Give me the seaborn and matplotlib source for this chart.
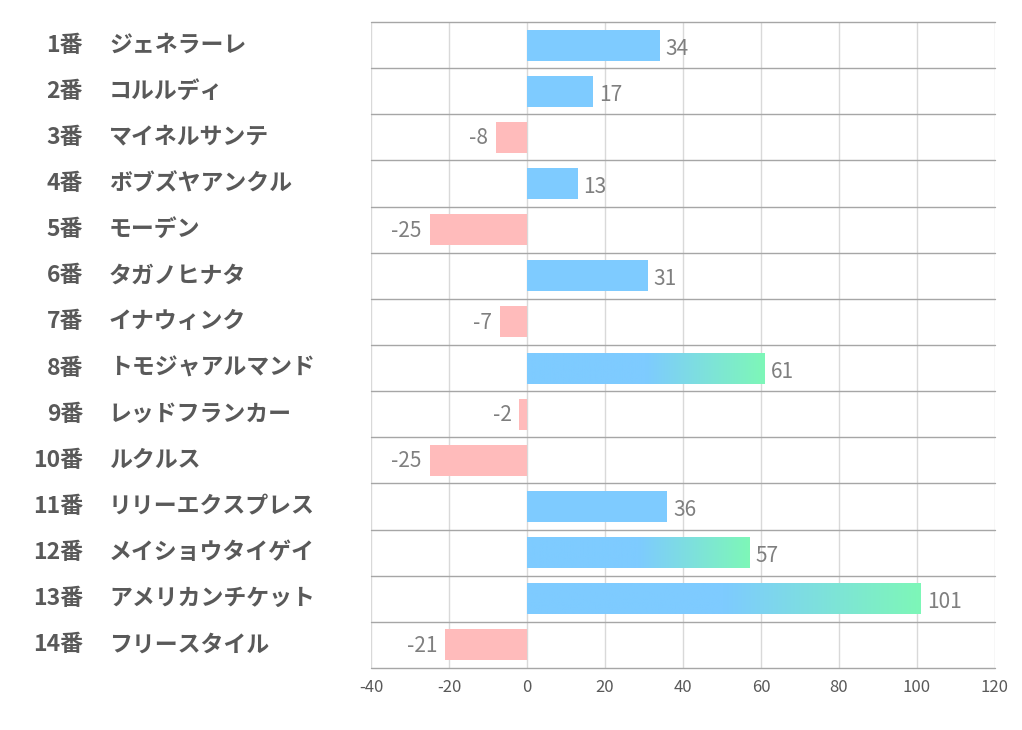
import matplotlib
matplotlib.use("Agg")
import matplotlib.pyplot as plt
import matplotlib.transforms as mtrans
from matplotlib.colors import LinearSegmentedColormap
import numpy as np
import pandas as pd
import seaborn as sns

numbers = ["1番", "2番", "3番", "4番", "5番", "6番", "7番", "8番", "9番", "10番",
           "11番", "12番", "13番", "14番"]
horses = ["ジェネラーレ", "コルルディ", "マイネルサンテ", "ボブズヤアンクル", "モーデン",
          "タガノヒナタ", "イナウィンク", "トモジャアルマンド", "レッドフランカー", "ルクルス",
          "リリーエクスプレス", "メイショウタイゲイ", "アメリカンチケット", "フリースタイル"]
values = [34, 17, -8, 13, -25, 31, -7, 61, -2, -25, 36, 57, 101, -21]
x_ticks = [-40, -20, 0, 20, 40, 60, 80, 100, 120]

sns.set_theme(style="white")
plt.rcParams['font.family'] = ['Noto Sans CJK JP', 'DejaVu Sans']

df = pd.DataFrame({"horse": horses, "value": values})
df["sign"] = np.where(df["value"] >= 0, "pos", "neg")

BLUE = "#7ECBFF"
PINK = "#FFBBBB"
GREEN = "#7DF7B8"

fig = plt.figure(figsize=(10.22, 7.30), dpi=100)
ax = fig.add_axes([371/1022, 1-668/730, (995-371)/1022, (668-22)/730])

sns.barplot(data=df, y="horse", x="value", hue="sign", palette={"pos": BLUE, "neg": PINK},
            orient="h", width=0.67, dodge=False, legend=False, ax=ax, saturation=1,
            edgecolor="none", linewidth=0)

ax.set_xlim(x_ticks[0], x_ticks[-1])
ax.set_ylim(len(horses) - 0.5, -0.5)
ax.set_xticks(x_ticks)
ax.set_xticklabels([str(t) for t in x_ticks], fontsize=12, color="#595959")
ax.tick_params(axis="x", length=0, pad=8)
ax.set_yticks([])
ax.set_xlabel("")
ax.set_ylabel("")

# grid
for t in x_ticks:
    ax.axvline(t, color="#D9D9D9", lw=1, zorder=0)
for b in np.arange(-0.5, len(horses), 1.0):
    ax.axhline(b, color="#A6A6A6", lw=1, zorder=0.5, clip_on=False)
for s in ax.spines.values():
    s.set_visible(False)

# gradient for long bars
gcmap = LinearSegmentedColormap.from_list("g", [(0, BLUE), (0.5, BLUE), (1, GREEN)])
for patch in list(ax.patches):
    w = patch.get_width()
    if w >= 50:
        x0, y0 = patch.get_x(), patch.get_y()
        h = patch.get_height()
        grad = np.linspace(0, 1, 256).reshape(1, -1)
        im = ax.imshow(grad, cmap=gcmap, aspect="auto",
                       extent=(x0, x0 + w, y0 + h, y0), zorder=patch.get_zorder() + 0.1)
        im.set_clip_path(patch)
ax.set_xlim(x_ticks[0], x_ticks[-1])
ax.set_ylim(len(horses) - 0.5, -0.5)

# value labels
for i, v in enumerate(values):
    if v >= 0:
        ax.text(v + 1.5, i + 0.08, str(v), ha="left", va="center", fontsize=15, color="#7F7F7F")
    else:
        ax.text(v - 2, i + 0.02, str(v), ha="right", va="center", fontsize=15, color="#7F7F7F")

# row labels
trans = mtrans.blended_transform_factory(fig.transFigure, ax.transData)
for i, (n, h) in enumerate(zip(numbers, horses)):
    ax.text(83/1022, i, n, transform=trans, ha="right", va="center",
            fontsize=16.5, fontweight="bold", color="#595959")
    ax.text(109/1022, i, h, transform=trans, ha="left", va="center",
            fontsize=16.5, fontweight="bold", color="#595959")

fig.savefig("out.png", dpi=100)
